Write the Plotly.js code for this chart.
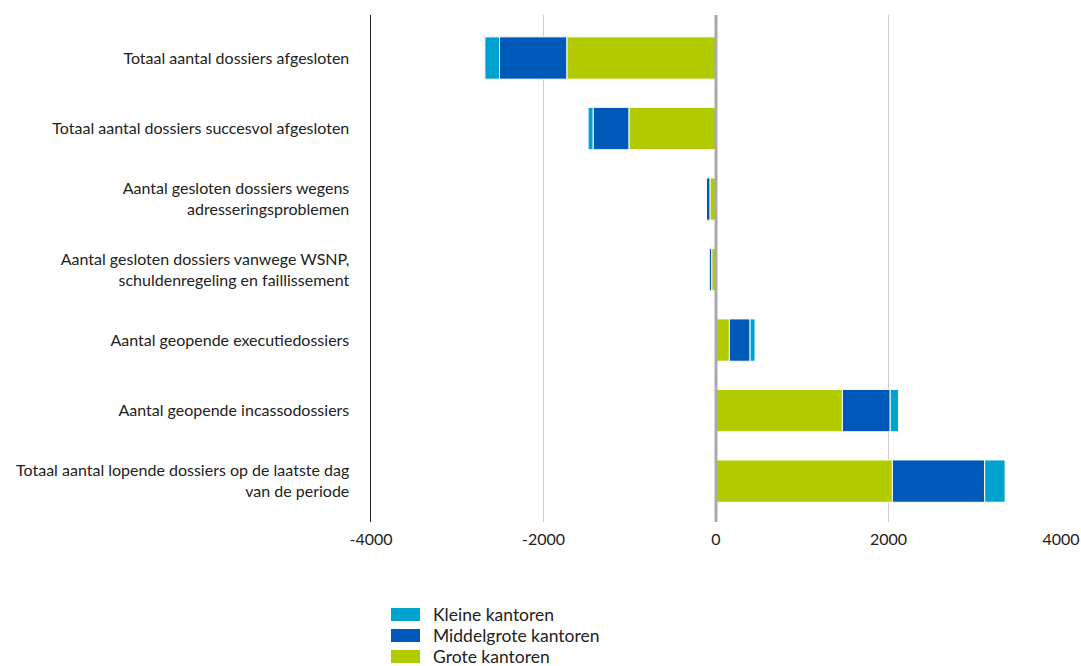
<!DOCTYPE html>
<html>
<head>
<meta charset="utf-8">
<script src="https://cdn.plot.ly/plotly-3.0.1.min.js"></script>
<style>html,body{margin:0;padding:0;background:#fff;}#chart{width:1081px;height:666px;}</style>
</head>
<body>
<div id="chart"></div>
<script>
const categories = [
  "Totaal aantal dossiers afgesloten",
  "Totaal aantal dossiers succesvol afgesloten",
  "Aantal gesloten dossiers wegens<br>adresseringsproblemen",
  "Aantal gesloten dossiers vanwege WSNP,<br>schuldenregeling en faillissement",
  "Aantal geopende executiedossiers",
  "Aantal geopende incassodossiers",
  "Totaal aantal lopende dossiers op de laatste dag<br>van de periode"
];
const groteKantoren = [-1730, -1010, -70, -50, 155, 1465, 2045];
const middelgroteKantoren = [-780, -415, -40, -30, 240, 555, 1070];
const kleineKantoren = [-170, -58, -5, -5, 58, 97, 237];
const tickVals = [-4000, -2000, 0, 2000, 4000];
const tickText = ["-4000", "-2000", "0", "2000", "4000"];
const seriesNames = ["Grote kantoren", "Middelgrote kantoren", "Kleine kantoren"];
const seriesColors = ["#b1cb00", "#0058b8", "#00a2d0"];
const seriesValues = [groteKantoren, middelgroteKantoren, kleineKantoren];

const font = "Lato, 'Noto Sans', sans-serif";
const traces = seriesNames.map((name, i) => ({
  type: "bar", orientation: "h", name, x: seriesValues[i], y: categories, width: 0.6,
  marker: {color: seriesColors[i], line: {color: "#ffffff", width: 1}},
  showlegend: false
}));

// custom legend (bigger swatches like the reference), order: Kleine, Middelgrote, Grote
const shapes = [];
const annotations = [];
const legendOrder = [2, 1, 0];
legendOrder.forEach((si, k) => {
  const top = 608 + k * 21;
  shapes.push({type: "rect", xref: "paper", yref: "paper", layer: "above",
    x0: (391 - 371) / 690, x1: (420 - 371) / 690,
    y0: (522 - (top + 13)) / 507, y1: (522 - top) / 507,
    fillcolor: seriesColors[si], line: {width: 0}});
  annotations.push({xref: "paper", yref: "paper", x: (431 - 371) / 690, y: (522 - (top + 6.5)) / 507,
    xanchor: "left", yanchor: "middle", showarrow: false, text: seriesNames[si],
    font: {family: font, size: 17.5, color: "#222"}});
});
// zero line drawn above bars
shapes.push({type: "line", xref: "x", yref: "paper", x0: 0, x1: 0, y0: 0, y1: 1,
  layer: "above", line: {color: "#aaaaaa", width: 3}});

const layout = {
  width: 1081, height: 666,
  margin: {l: 371, r: 20, t: 15, b: 144},
  barmode: "relative",
  paper_bgcolor: "#fff", plot_bgcolor: "#fff",
  font: {family: font, size: 16, color: "#222"},
  showlegend: false,
  shapes, annotations,
  xaxis: {range: [-4000, 4000], tickvals: tickVals, ticktext: tickText, showgrid: true,
          gridcolor: "#cccccc", gridwidth: 1.5, zeroline: false, ticklabelstandoff: 6,
          showline: false, ticks: "", tickfont: {size: 16, color: "#222"}, fixedrange: true},
  yaxis: {type: "category", categoryorder: "array", categoryarray: categories,
          range: [6.58, -0.61], showgrid: false, zeroline: false, showline: true,
          linecolor: "#222", linewidth: 1.5, ticks: "", ticklabelstandoff: 17,
          tickfont: {size: 16, color: "#222"}, fixedrange: true}
};
Plotly.newPlot("chart", traces, layout, {displayModeBar: false, staticPlot: true});
</script>
</body>
</html>
